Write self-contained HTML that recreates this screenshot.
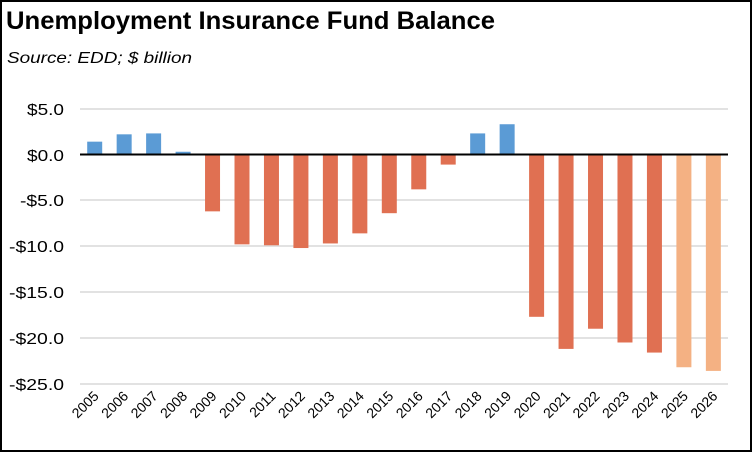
<!DOCTYPE html>
<html><head><style>
body{margin:0;background:#fff}
.w{position:relative;width:748px;height:448px;border:2px solid #000;overflow:hidden;font-family:"Liberation Sans",sans-serif}
</style></head><body><div class="w">
<svg width="748" height="448" viewBox="2 2 748 448" style="position:absolute;left:0;top:0">
<text x="6" y="29" font-size="25" font-weight="bold" fill="#000" textLength="489" lengthAdjust="spacingAndGlyphs">Unemployment Insurance Fund Balance</text>
<text x="7" y="63" font-size="16" font-style="italic" fill="#000" textLength="185" lengthAdjust="spacingAndGlyphs">Source:  EDD; $ billion</text>
<g stroke="#d9d9d9" stroke-width="1.5">
<line x1="80" x2="728" y1="109" y2="109"/><line x1="80" x2="728" y1="200" y2="200"/>
<line x1="80" x2="728" y1="246" y2="246"/><line x1="80" x2="728" y1="292" y2="292"/>
<line x1="80" x2="728" y1="338" y2="338"/><line x1="80" x2="728" y1="384" y2="384"/>
</g>
<g font-size="16" text-anchor="end" fill="#000">
<text x="64" y="115" textLength="37" lengthAdjust="spacingAndGlyphs">$5.0</text><text x="64" y="161" textLength="37" lengthAdjust="spacingAndGlyphs">$0.0</text><text x="64" y="206" textLength="44" lengthAdjust="spacingAndGlyphs">-$5.0</text>
<text x="64" y="252" textLength="55" lengthAdjust="spacingAndGlyphs">-$10.0</text><text x="64" y="298" textLength="55" lengthAdjust="spacingAndGlyphs">-$15.0</text><text x="64" y="344" textLength="55" lengthAdjust="spacingAndGlyphs">-$20.0</text><text x="64" y="390" textLength="55" lengthAdjust="spacingAndGlyphs">-$25.0</text>
</g>
<g id="bars"></g>
<line x1="80" x2="728" y1="154.5" y2="154.5" stroke="#000" stroke-width="2"/>
<g id="lbl" font-size="14" fill="#000"></g>
</svg>
<script>
var v=[1.4,2.2,2.3,0.3,-6.2,-9.8,-9.9,-10.2,-9.7,-8.6,-6.4,-3.8,-1.1,2.3,3.3,-17.7,-21.2,-19.0,-20.5,-21.6,-23.2,-23.6];
var b='',l='';
for(var i=0;i<22;i++){var cx=94.7+i*29.46,h=v[i]*9.17,y=h>0?154.5-h:154.5,c=v[i]>0?'#5b9bd5':(i>=20?'#f4b183':'#e07052');
b+='<rect x="'+(cx-7.5)+'" y="'+y+'" width="15" height="'+Math.abs(h)+'" fill="'+c+'"/>';
l+='<text transform="translate('+(cx+5)+',397) rotate(-45)" text-anchor="end">'+(2005+i)+'</text>';}
document.getElementById('bars').innerHTML=b;document.getElementById('lbl').innerHTML=l;
</script>
</div></body></html>
